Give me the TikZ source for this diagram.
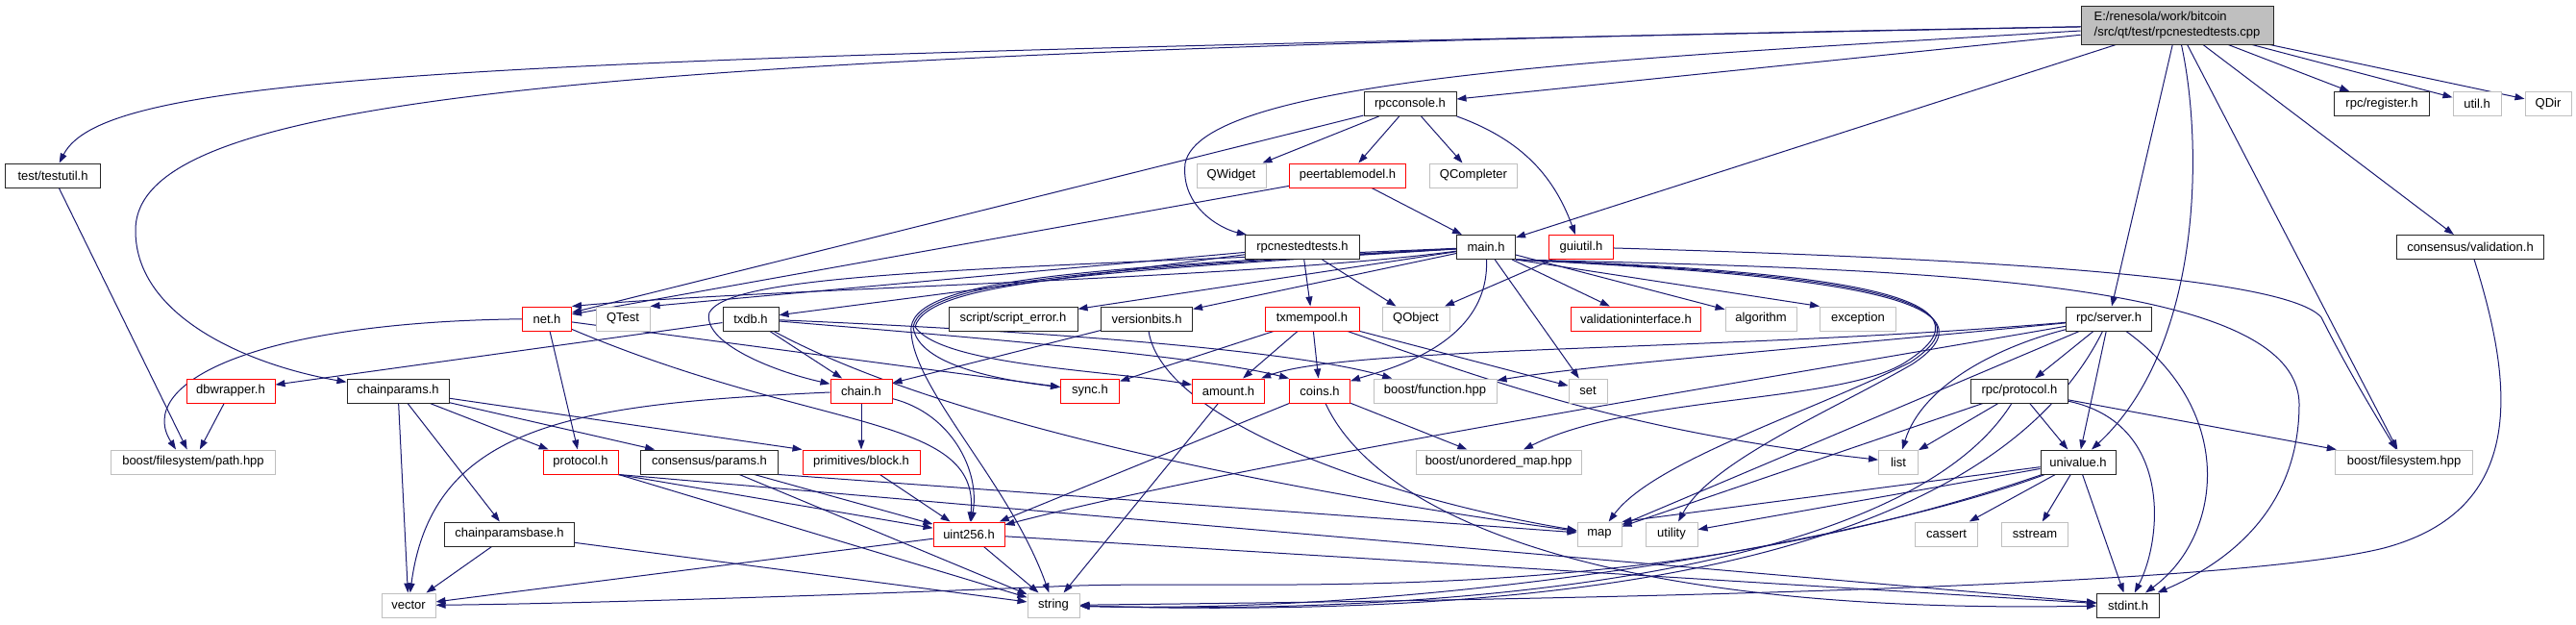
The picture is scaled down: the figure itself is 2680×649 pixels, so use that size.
\documentclass[tikz,border=0pt]{standalone}
\usepackage{fontspec}
\setmainfont{Liberation Sans}
\usepackage{tikz}
\usetikzlibrary{arrows.meta, backgrounds}

\definecolor{edgeblue}{HTML}{191970}
\definecolor{sysgray}{HTML}{BFBFBF}

\begin{document}
\begin{tikzpicture}[
    x=1pt, y=-1pt,
    font=\fontsize{13}{16}\selectfont,
    hdrbox/.style={draw, rectangle, fill=white, minimum height=25pt, inner xsep=2pt, inner ysep=0pt, line width=1pt},
    docbox/.style={hdrbox, draw=black!85},
    redbox/.style={hdrbox, draw=red},
    sysbox/.style={hdrbox, draw=sysgray},
    wd/.style={minimum width=#1pt},
    dep/.style={->, >={Triangle[length=10pt,width=7pt]}, draw=edgeblue, line width=1pt}
]
% rows from top to bottom
\node (root) [docbox, fill=sysgray, minimum width=200pt, minimum height=40pt, align=left, inner xsep=11pt] at (2265,26) {E:/renesola/work/bitcoin\\/src/qt/test/rpcnestedtests.cpp};

\node (rpcconsole) [docbox, wd=96] at (1467,108) {rpcconsole.h};
\node (rpcregister) [docbox, wd=99] at (2478,108) {rpc/register.h};
\node (utilh) [sysbox, wd=50] at (2577,108) {util.h};
\node (qdir) [sysbox, wd=48] at (2651,108) {QDir};

\node (testutil) [docbox, wd=99] at (55,182.5) {test/testutil.h};
\node (qwidget) [sysbox, wd=72] at (1281,182.5) {QWidget};
\node (peertable) [redbox, wd=121] at (1402,182.5) {peertablemodel.h};
\node (qcompleter) [sysbox, wd=91] at (1533,182.5) {QCompleter};

\node (nestedh) [docbox, wd=119] at (1355,257) {rpcnestedtests.h};
\node (mainh) [docbox, wd=61] at (1546,257) {main.h};
\node (guiutil) [redbox, wd=67] at (1645,257) {guiutil.h};
\node (cvalid) [docbox, wd=153] at (2570,257) {consensus/validation.h};

\node (neth) [redbox, wd=51] at (569,331.5) {net.h};
\node (qtest) [sysbox, wd=56] at (648,331.5) {QTest};
\node (txdb) [docbox, wd=58] at (781,331.5) {txdb.h};
\node (scripterr) [docbox, wd=134] at (1054,331.5) {script/script\_error.h};
\node (versionbits) [docbox, wd=95] at (1193,331.5) {versionbits.h};
\node (txmempool) [redbox, wd=98] at (1365,331.5) {txmempool.h};
\node (qobject) [sysbox, wd=70] at (1473,331.5) {QObject};
\node (valiface) [redbox, wd=135] at (1702,331.5) {validationinterface.h};
\node (algorithm) [sysbox, wd=74] at (1832,331.5) {algorithm};
\node (exception) [sysbox, wd=79] at (1933,331.5) {exception};
\node (rpcserver) [docbox, wd=89] at (2194,331.5) {rpc/server.h};

\node (dbwrapper) [redbox, wd=92] at (240,406.5) {dbwrapper.h};
\node (chainparams) [docbox, wd=106] at (414,406.5) {chainparams.h};
\node (chainh) [redbox, wd=64] at (896,406.5) {chain.h};
\node (synch) [redbox, wd=61] at (1134,406.5) {sync.h};
\node (amount) [redbox, wd=75] at (1278,406.5) {amount.h};
\node (coins) [redbox, wd=63] at (1373,406.5) {coins.h};
\node (function) [sysbox, wd=128] at (1493,406.5) {boost/function.hpp};
\node (seth) [sysbox, wd=40] at (1652,406.5) {set};
\node (rpcprotocol) [docbox, wd=101] at (2101,406.5) {rpc/protocol.h};

\node (fspath) [sysbox, wd=171] at (201,480.5) {boost/filesystem/path.hpp};
\node (protocol) [redbox, wd=78] at (604,480.5) {protocol.h};
\node (cparams) [docbox, wd=143] at (738,480.5) {consensus/params.h};
\node (block) [redbox, wd=122] at (896,480.5) {primitives/block.h};
\node (unordmap) [sysbox, wd=172] at (1559,480.5) {boost/unordered\_map.hpp};
\node (list) [sysbox, wd=41] at (1975,480.5) {list};
\node (univalue) [docbox, wd=78] at (2162,480.5) {univalue.h};
\node (boostfs) [sysbox, wd=143] at (2501,480.5) {boost/filesystem.hpp};

\node (cpbase) [docbox, wd=135] at (530,555.5) {chainparamsbase.h};
\node (uint) [redbox, wd=74] at (1008,555.5) {uint256.h};
\node (map) [sysbox, wd=46] at (1664,555.5) {map};
\node (utility) [sysbox, wd=54] at (1739,555.5) {utility};
\node (cassert) [sysbox, wd=65] at (2025,555.5) {cassert};
\node (sstream) [sysbox, wd=69] at (2117,555.5) {sstream};

\node (vector) [sysbox, wd=56] at (425,629.5) {vector};
\node (string) [sysbox, wd=54] at (1096,629.5) {string};
\node (stdint) [docbox, wd=65] at (2214,629.5) {stdint.h};

\begin{scope}[on background layer]
\fill[white] (0,0) rectangle (2680,649);

% includes of the cpp file
\draw[dep] (root) .. controls (500,60) and (110,75) .. (testutil);
\draw[dep] (root) .. controls (600,55) and (140,100) .. (141,240) .. controls (141,330) and (260,380) .. (chainparams);
\draw[dep] (root) .. controls (1700,60) and (1250,80) .. (1233,170) .. controls (1228,215) and (1270,238) .. (nestedh);
\draw[dep] (root) -- (rpcconsole);
\draw[dep] (root) -- (mainh);
\draw[dep] (root) -- (rpcserver);
\draw[dep] (root) .. controls (2292,150) and (2292,360) .. (univalue);
\draw[dep] (root) -- (boostfs);
\draw[dep] (root) -- (cvalid);
\draw[dep] (root) -- (rpcregister);
\draw[dep] (root) -- (utilh);
\draw[dep] (root) -- (qdir);

% gui headers
\draw[dep] (rpcconsole) -- (qwidget);
\draw[dep] (rpcconsole) -- (peertable);
\draw[dep] (rpcconsole) -- (qcompleter);
\draw[dep] (rpcconsole) to[bend left=25] (guiutil);
\draw[dep] (rpcconsole) -- (neth);
\draw[dep] (peertable) -- (mainh);
\draw[dep] (peertable) -- (neth);
\draw[dep] (nestedh) -- (qtest.north east);
\draw[dep] (nestedh) -- (txdb);
\draw[dep] (nestedh) -- (txmempool);
\draw[dep] (nestedh) -- (qobject);
\draw[dep] (guiutil) -- (qobject);
\draw[dep] (guiutil) .. controls (2100,270) and (2380,290) .. (2415,330) .. controls (2440,380) and (2470,430) .. (boostfs);

% main.h
\draw[dep] (mainh) .. controls (1300,290) and (800,300) .. (neth.north east);
\draw[dep] (mainh) .. controls (1000,280) and (760,285) .. (738,325) .. controls (730,355) and (800,385) .. (chainh);
\draw[dep] (mainh) -- (scripterr);
\draw[dep] (mainh) -- (versionbits);
\draw[dep] (mainh) .. controls (1150,280) and (960,290) .. (950,340) .. controls (955,380) and (1040,395) .. (synch);
\draw[dep] (mainh) .. controls (1150,282) and (965,292) .. (952,340) .. controls (980,380) and (1150,385) .. (amount);
\draw[dep] (mainh) .. controls (1150,278) and (955,288) .. (948,340) .. controls (945,400) and (1050,500) .. (string);
\draw[dep] (mainh) .. controls (1550,360) and (1440,385) .. (coins);
\draw[dep] (mainh) -- (valiface);
\draw[dep] (mainh) -- (algorithm);
\draw[dep] (mainh.south east) -- (exception.north west);
\draw[dep] (mainh) -- (seth);
\draw[dep] (mainh.south east) .. controls (1850,280) and (2100,300) .. (1985,375) .. controls (1920,420) and (1700,410) .. (unordmap);
\draw[dep] (mainh.south east) .. controls (1850,282) and (2102,302) .. (1987,377) .. controls (1880,430) and (1720,480) .. (map);
\draw[dep] (mainh.south east) .. controls (1850,284) and (2104,304) .. (1989,379) .. controls (1900,430) and (1780,480) .. (utility);
\draw[dep] (mainh.south east) .. controls (2000,280) and (2390,290) .. (2392,420) .. controls (2392,520) and (2330,580) .. (stdint);

% net.h, txdb.h, versionbits.h, txmempool.h
\draw[dep] (neth) -- (protocol);
\draw[dep] (neth) .. controls (260,335) and (140,400) .. ([xshift=-18pt]fspath.north);
\draw[dep] (neth) -- (synch);
\draw[dep] (neth) .. controls (850,450) and (1020,430) .. (uint);
\draw[dep] (txdb) -- (chainh);
\draw[dep] (txdb) -- (dbwrapper);
\draw[dep] (txdb) .. controls (1000,350) and (1250,370) .. (coins.north west);
\draw[dep] (txdb) .. controls (1100,345) and (1350,365) .. (function);
\draw[dep] (txdb) .. controls (1000,450) and (1400,520) .. (map);
\draw[dep] (versionbits) -- (chainh);
\draw[dep] (versionbits) .. controls (1210,440) and (1450,520) .. (map);
\draw[dep] (txmempool) -- (amount);
\draw[dep] (txmempool) -- (coins);
\draw[dep] (txmempool) -- (synch);
\draw[dep] (txmempool) -- (seth);
\draw[dep] (txmempool) .. controls (1560,400) and (1700,450) .. (list);

% rpc headers
\draw[dep] (rpcserver) -- (rpcprotocol);
\draw[dep] (rpcserver) -- (univalue);
\draw[dep] (rpcserver) .. controls (2330,430) and (2310,560) .. (stdint);
\draw[dep] (rpcserver) .. controls (2080,360) and (2000,400) .. (list);
\draw[dep] (rpcserver) .. controls (1800,365) and (1400,360) .. (amount);
\draw[dep] (rpcserver) .. controls (1850,365) and (1650,380) .. (function);
\draw[dep] (rpcserver) .. controls (1800,400) and (1300,480) .. (uint);
\draw[dep] (rpcserver) -- (map);
\draw[dep] (rpcserver) .. controls (2050,620) and (1500,640) .. (string);
\draw[dep] (rpcprotocol) -- (list);
\draw[dep] (rpcprotocol) -- (univalue);
\draw[dep] (rpcprotocol) -- (boostfs);
\draw[dep] (rpcprotocol) .. controls (2260,440) and (2250,560) .. (stdint);
\draw[dep] (rpcprotocol) -- (map);
\draw[dep] (rpcprotocol) .. controls (1980,600) and (1500,640) .. (string);
\draw[dep] (univalue) -- (cassert);
\draw[dep] (univalue) -- (sstream);
\draw[dep] (univalue) -- (stdint);
\draw[dep] (univalue) -- (map.north east);
\draw[dep] (univalue) -- (utility);
\draw[dep] (univalue) .. controls (1950,560) and (1500,640) .. (string);
\draw[dep] (univalue) .. controls (1700,640) and (1300,600) .. (1096,610) .. controls (900,618) and (600,628) .. (vector);
\draw[dep] (cvalid) .. controls (2615,400) and (2630,530) .. (2480,570) .. controls (2300,615) and (1500,625) .. (string);

% core headers
\draw[dep] (amount) -- (string);
\draw[dep] (coins) -- (unordmap);
\draw[dep] (coins) -- (uint);
\draw[dep] (coins) .. controls (1430,530) and (1650,640) .. (stdint);
\draw[dep] (chainh) -- (block);
\draw[dep] (chainh) .. controls (990,430) and (1020,490) .. (uint);
\draw[dep] (chainh) .. controls (600,420) and (450,440) .. (vector);
\draw[dep] (chainparams) -- (cpbase);
\draw[dep] (chainparams) -- (protocol);
\draw[dep] (chainparams) -- (cparams);
\draw[dep] (chainparams) -- (block.north west);
\draw[dep] (chainparams) -- (vector);
\draw[dep] (cpbase) -- (vector);
\draw[dep] (cpbase) -- (string);
\draw[dep] (cparams) -- (uint);
\draw[dep] (cparams) -- (string);
\draw[dep] (cparams.south east) -- (map);
\draw[dep] (block) -- (uint);
\draw[dep] (protocol.south east) -- (uint);
\draw[dep] (protocol.south east) -- (string);
\draw[dep] (protocol.south east) -- (stdint);
\draw[dep] (uint) -- (vector);
\draw[dep] (uint) -- (string);
\draw[dep] (uint) -- (stdint);
\draw[dep] (dbwrapper) -- (fspath);
\draw[dep] (testutil) -- (fspath);
\end{scope}

\useasboundingbox (0,0) rectangle (2680,649);
\end{tikzpicture}
\end{document}
